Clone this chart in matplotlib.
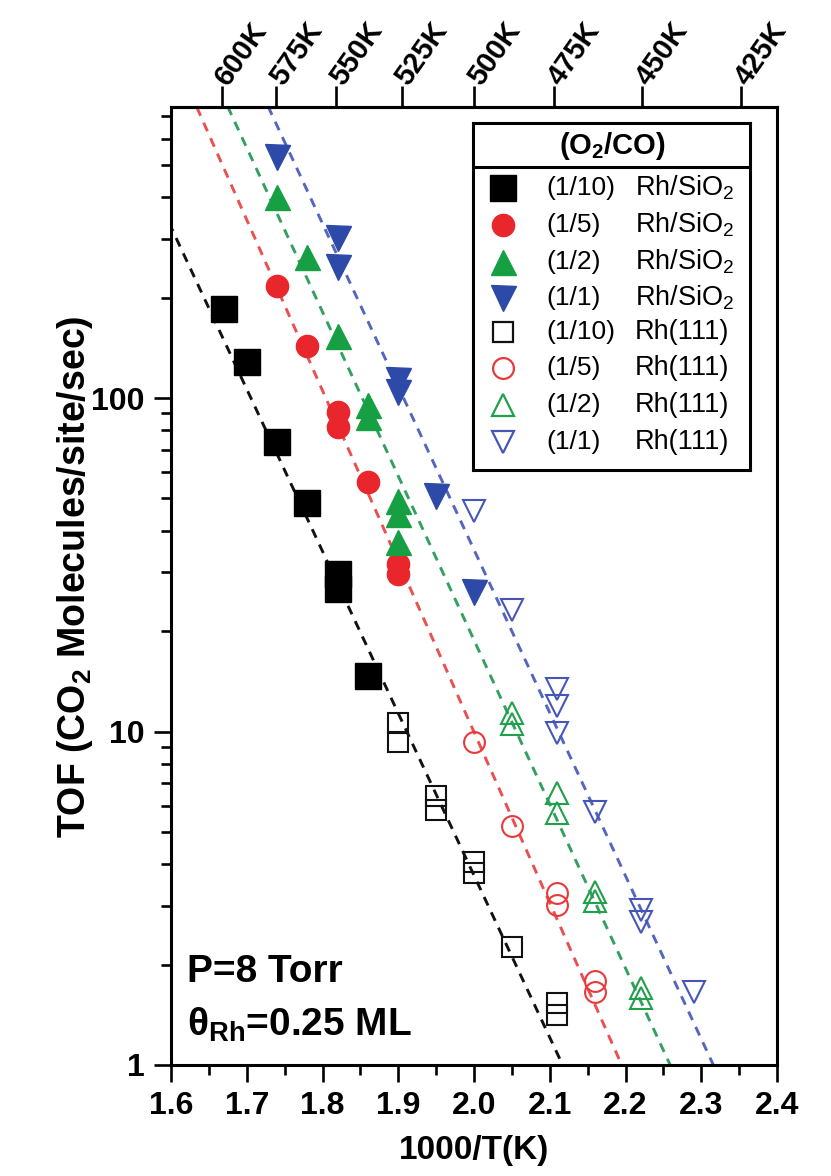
import numpy as np
import matplotlib
matplotlib.use("Agg")
import matplotlib.pyplot as plt
from matplotlib.ticker import MultipleLocator, LogLocator, FixedLocator, NullFormatter

plt.rcParams['font.family'] = ['Liberation Sans', 'DejaVu Sans']
plt.rcParams['mathtext.fontset'] = 'custom'
plt.rcParams['mathtext.rm'] = 'Liberation Sans'
plt.rcParams['mathtext.bf'] = 'Liberation Sans:bold'
plt.rcParams['mathtext.it'] = 'Liberation Sans:italic'

# ---- data: 1000/T (K^-1) and TOF (CO2 molecules/site/sec) ----
# Rh/SiO2 (supported nanoparticles)
x_sio2_1_10 = [1.67, 1.70, 1.74, 1.78, 1.82, 1.82, 1.86]
y_sio2_1_10 = [185, 128, 74, 48.5, 29.6, 26.7, 14.7]
x_sio2_1_5 = [1.74, 1.78, 1.82, 1.82, 1.86, 1.90, 1.90]
y_sio2_1_5 = [217, 143, 91, 82, 56, 31.7, 29.6]
x_sio2_1_2 = [1.74, 1.78, 1.82, 1.86, 1.86, 1.90, 1.90, 1.90]
y_sio2_1_2 = [401, 265, 153, 95, 88, 49, 45, 37]
x_sio2_1_1 = [1.74, 1.82, 1.82, 1.90, 1.90, 1.95, 2.00]
y_sio2_1_1 = [530, 302, 247, 113, 104, 50.8, 26.2]

# Rh(111) single crystal
x_111_1_10 = [1.90, 1.90, 1.95, 1.95, 2.00, 2.00, 2.05, 2.11, 2.11]
y_111_1_10 = [10.6, 9.3, 6.4, 5.8, 4.07, 3.77, 2.26, 1.53, 1.41]
x_111_1_5 = [2.00, 2.05, 2.11, 2.11, 2.16, 2.16]
y_111_1_5 = [9.3, 5.2, 3.29, 3.02, 1.78, 1.66]
x_111_1_2 = [2.05, 2.05, 2.11, 2.11, 2.16, 2.16, 2.22, 2.22]
y_111_1_2 = [11.4, 10.5, 6.56, 5.7, 3.3, 3.1, 1.70, 1.59]
x_111_1_1 = [2.00, 2.05, 2.11, 2.11, 2.11, 2.16, 2.22, 2.22, 2.29]
y_111_1_1 = [45.8, 23.2, 13.4, 11.9, 9.9, 5.75, 2.92, 2.69, 1.65]

# Arrhenius fits per O2/CO ratio: log10(TOF) = slope * (1000/T - x_at_tof1)
ratios = ["(1/10)", "(1/5)", "(1/2)", "(1/1)"]
fit_x_at_tof1 = [2.117, 2.195, 2.259, 2.316]
fit_slope = [-4.86, -5.12, -4.92, -4.89]

temps_K = [600, 575, 550, 525, 500, 475, 450, 425]

# ---- styles ----
c_black = "#000000"
c_red = "#e8262b"
c_green = "#17a043"
c_blue = "#2e4aa8"
line_colors = ["#111111", "#ea5050", "#33a062", "#5566c0"]
open_colors = ["#111111", "#e8383a", "#1fa04a", "#4656b8"]

fig = plt.figure(figsize=(8.31, 11.76), dpi=100)
ax = fig.add_axes([171 / 831, 1 - 1065 / 1176, (777 - 171) / 831, (1065 - 107) / 1176])
ax.set_yscale('log')
ax.set_xlim(1.6, 2.4)
ax.set_ylim(1, 746)

# dashed fit lines
xx = np.linspace(1.55, 2.45, 200)
for x0, s, col in zip(fit_x_at_tof1, fit_slope, line_colors):
    ax.plot(xx, 10 ** (s * (xx - x0)), ls=(0, (3.2, 2.6)), lw=2.1, color=col, zorder=1)

filled = [
    (x_sio2_1_10, y_sio2_1_10, 's', 19, c_black),
    (x_sio2_1_5, y_sio2_1_5, 'o', 16, c_red),
    (x_sio2_1_2, y_sio2_1_2, '^', 18, c_green),
    (x_sio2_1_1, y_sio2_1_1, 'v', 18, c_blue),
]
hollow = [
    (x_111_1_10, y_111_1_10, 's', 14, open_colors[0]),
    (x_111_1_5, y_111_1_5, 'o', 15, open_colors[1]),
    (x_111_1_2, y_111_1_2, '^', 16, open_colors[2]),
    (x_111_1_1, y_111_1_1, 'v', 16, open_colors[3]),
]
for xs, ys, m, ms, col in filled:
    ax.plot(xs, ys, ls='none', marker=m, ms=ms, color=col, mec=col, zorder=3)
for xs, ys, m, ms, col in hollow:
    ax.plot(xs, ys, ls='none', marker=m, ms=ms, mfc='none', mec=col, mew=1.5, zorder=3)

# axes styling
for sp in ax.spines.values():
    sp.set_linewidth(2.2)
ax.xaxis.set_major_locator(MultipleLocator(0.1))
ax.xaxis.set_minor_locator(MultipleLocator(0.05))
ax.xaxis.set_major_formatter(lambda v, p: f"{v:.1f}")
ax.yaxis.set_major_locator(FixedLocator([1, 10, 100]))
ax.yaxis.set_major_formatter(lambda v, p: f"{v:g}")
ax.yaxis.set_minor_locator(LogLocator(base=10, subs=np.arange(2, 10)))
ax.yaxis.set_minor_formatter(NullFormatter())
ax.tick_params(which='major', direction='out', length=12, width=1.9, labelsize=23, pad=7,
               top=False, right=False)
ax.tick_params(which='minor', direction='out', length=7, width=1.9, top=False, right=False)
for lab in ax.get_xticklabels() + ax.get_yticklabels():
    lab.set_fontweight('bold')

ax.set_xlabel("1000/T(K)", fontsize=24, fontweight='bold', labelpad=10)
ax.set_ylabel(r"TOF (CO$_\mathbf{2}$ Molecules/site/sec)", fontsize=27, fontweight='bold')
ax.yaxis.set_label_coords(-0.125, 0.51)

# temperature scale on top
inv = lambda v: 1000.0 / np.asarray(v, dtype=float)
sec = ax.secondary_xaxis('top', functions=(inv, inv))
sec.set_xticks(temps_K)
sec.set_xticklabels([f"{t}K" for t in temps_K], fontsize=21, fontweight='bold',
                    rotation=55, rotation_mode='anchor', ha='left', va='center')
sec.xaxis.set_minor_locator(FixedLocator([]))
sec.tick_params(which='major', direction='out', length=15, width=1.9, pad=3)
sec.spines['top'].set_linewidth(2.2)

# experimental conditions
ax.text(0.026, 0.0866, "P=8 Torr", transform=ax.transAxes, fontsize=28, fontweight='bold',
        ha='left', va='baseline')
ax.text(0.026, 0.031, r"θ$_\mathbf{Rh}$=0.25 ML", transform=ax.transAxes, fontsize=28,
        fontweight='bold', ha='left', va='baseline')

# legend box with header
lg = fig.add_axes([473 / 831, 1 - 470 / 1176, (750 - 473) / 831, (470 - 123) / 1176])
lg.set_xlim(0, 1)
lg.set_ylim(0, 1)
lg.set_xticks([])
lg.set_yticks([])
for sp in lg.spines.values():
    sp.set_linewidth(2.2)
lg.axhline(0.873, color='black', lw=2.2)
lg.text(0.505, 0.935, r"(O$_\mathbf{2}$/CO)", fontsize=21, fontweight='bold', ha='center', va='center')
row_y = [0.813, 0.706, 0.599, 0.496, 0.398, 0.294, 0.187, 0.081]
entries = []
for (xs, ys, m, ms, col), r in zip(filled, ratios):
    entries.append((m, ms, col, True, r, r"Rh/SiO$_2$"))
for (xs, ys, m, ms, col), r in zip(hollow, ratios):
    entries.append((m, ms, col, False, r, "Rh(111)"))
for yv, (m, ms, col, full, r, sub) in zip(row_y, entries):
    if full:
        lg.plot([0.108], [yv], marker=m, ms=ms, color=col, ls='none')
    else:
        lg.plot([0.108], [yv], marker=m, ms=ms, mfc='none', mec=col, mew=1.6, ls='none')
    lg.text(0.265, yv, r, fontsize=19, ha='left', va='center')
    lg.text(0.585, yv, sub, fontsize=19.5, ha='left', va='center')

fig.savefig("out.png", dpi=100)
